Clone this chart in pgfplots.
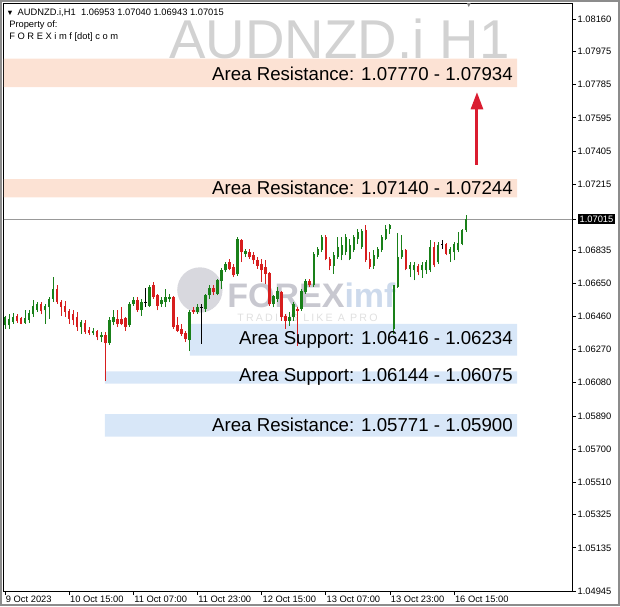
\documentclass[border=0pt]{standalone}
\usepackage{fontspec}
\setmainfont{Liberation Sans}
\newfontfamily\spacedfont[LetterSpace=20]{Liberation Sans}
\usepackage{pgfplots}
\pgfplotsset{compat=1.18}
\usepackage{pgfplotstable}
\usetikzlibrary{arrows.meta}
\definecolor{cgreen}{RGB}{25,128,25}
\definecolor{cred}{RGB}{215,30,30}
\definecolor{resband}{RGB}{252,226,212}
\definecolor{supband}{RGB}{216,231,248}
\definecolor{wmgray}{RGB}{210,210,210}
\definecolor{arrowred}{RGB}{218,28,48}
\definecolor{logogray}{RGB}{200,200,208}
\definecolor{logoblue}{RGB}{205,218,236}
\setlength{\fboxsep}{1.5pt}

\pgfplotstableread{
k o h l c
0 1.06407 1.06464 1.06388 1.06455
1 1.06407 1.06474 1.06388 1.06445
2 1.06426 1.06478 1.06416 1.06458
5 1.06420 1.06493 1.06416 1.06451
6 1.06439 1.06493 1.06420 1.06477
7 1.06470 1.06554 1.06458 1.06521
8 1.06497 1.06541 1.06483 1.06531
10 1.06493 1.06531 1.06416 1.06521
11 1.06512 1.06569 1.06445 1.06560
12 1.06560 1.06684 1.06541 1.06617
19 1.06397 1.06436 1.06359 1.06426
22 1.06363 1.06393 1.06350 1.06378
24 1.06340 1.06369 1.06311 1.06350
26 1.06306 1.06455 1.06298 1.06436
27 1.06426 1.06493 1.06407 1.06458
31 1.06407 1.06540 1.06397 1.06531
32 1.06531 1.06569 1.06521 1.06550
34 1.06493 1.06559 1.06464 1.06540
36 1.06521 1.06636 1.06512 1.06626
39 1.06527 1.06569 1.06512 1.06554
40 1.06540 1.06617 1.06512 1.06569
41 1.06559 1.06588 1.06540 1.06569
46 1.06321 1.06493 1.06260 1.06483
48 1.06483 1.06531 1.06474 1.06512
50 1.06502 1.06588 1.06483 1.06579
51 1.06579 1.06636 1.06559 1.06622
53 1.06588 1.06674 1.06579 1.06665
54 1.06660 1.06737 1.06617 1.06726
55 1.06722 1.06770 1.06712 1.06760
58 1.06700 1.06913 1.06690 1.06903
60 1.06817 1.06846 1.06798 1.06832
67 1.06527 1.06584 1.06511 1.06573
68 1.06559 1.06626 1.06540 1.06607
71 1.06435 1.06483 1.06406 1.06458
72 1.06454 1.06540 1.06435 1.06531
74 1.06502 1.06617 1.06492 1.06607
75 1.06597 1.06674 1.06588 1.06664
77 1.06636 1.06827 1.06626 1.06817
78 1.06808 1.06855 1.06798 1.06846
79 1.06836 1.06922 1.06827 1.06913
82 1.06750 1.06827 1.06702 1.06808
83 1.06798 1.06913 1.06788 1.06855
84 1.06808 1.06913 1.06779 1.06865
85 1.06830 1.06932 1.06808 1.06913
86 1.06788 1.06903 1.06779 1.06865
87 1.06836 1.06922 1.06827 1.06913
88 1.06903 1.06960 1.06874 1.06941
89 1.06855 1.06960 1.06846 1.06945
92 1.06750 1.06836 1.06731 1.06808
93 1.06798 1.06855 1.06788 1.06842
94 1.06836 1.06922 1.06827 1.06913
95 1.06903 1.06979 1.06894 1.06960
96 1.06956 1.06989 1.06932 1.06983
97 1.06389 1.06640 1.06361 1.06636
98 1.06626 1.06936 1.06623 1.06798
99 1.06798 1.06922 1.06789 1.06836
101 1.06731 1.06770 1.06684 1.06751
102 1.06722 1.06770 1.06665 1.06751
104 1.06722 1.06770 1.06680 1.06751
105 1.06722 1.06779 1.06703 1.06770
106 1.06722 1.06894 1.06712 1.06856
108 1.06770 1.06884 1.06760 1.06865
111 1.06817 1.06856 1.06770 1.06846
112 1.06827 1.06884 1.06779 1.06875
113 1.06836 1.06942 1.06827 1.06879
114 1.06875 1.06961 1.06865 1.06951
115 1.06953 1.07040 1.06943 1.07015
}\greencandles

\pgfplotstableread{
k o h l c
3 1.06464 1.06474 1.06420 1.06432
4 1.06451 1.06458 1.06413 1.06416
9 1.06531 1.06544 1.06470 1.06489
13 1.06617 1.06636 1.06531 1.06541
14 1.06541 1.06550 1.06464 1.06512
15 1.06521 1.06547 1.06455 1.06483
16 1.06489 1.06502 1.06416 1.06445
17 1.06474 1.06493 1.06407 1.06436
18 1.06455 1.06483 1.06378 1.06397
20 1.06420 1.06436 1.06359 1.06369
21 1.06382 1.06397 1.06355 1.06363
23 1.06374 1.06382 1.06321 1.06340
25 1.06350 1.06369 1.06092 1.06306
28 1.06445 1.06497 1.06397 1.06416
29 1.06445 1.06512 1.06407 1.06416
30 1.06451 1.06458 1.06378 1.06397
33 1.06550 1.06569 1.06483 1.06493
37 1.06636 1.06655 1.06559 1.06569
38 1.06579 1.06588 1.06493 1.06521
42 1.06569 1.06573 1.06388 1.06397
43 1.06407 1.06454 1.06369 1.06378
44 1.06388 1.06416 1.06349 1.06359
45 1.06363 1.06378 1.06311 1.06330
47 1.06493 1.06512 1.06474 1.06483
52 1.06622 1.06636 1.06579 1.06598
56 1.06769 1.06788 1.06722 1.06731
57 1.06740 1.06760 1.06683 1.06693
59 1.06897 1.06903 1.06769 1.06827
61 1.06827 1.06846 1.06788 1.06798
62 1.06808 1.06827 1.06760 1.06779
63 1.06783 1.06798 1.06731 1.06750
64 1.06760 1.06788 1.06655 1.06722
65 1.06741 1.06779 1.06645 1.06702
66 1.06706 1.06712 1.06521 1.06531
69 1.06597 1.06607 1.06435 1.06454
70 1.06464 1.06473 1.06387 1.06435
73 1.06502 1.06511 1.06292 1.06492
76 1.06664 1.06674 1.06626 1.06636
80 1.06913 1.06922 1.06779 1.06788
81 1.06788 1.06798 1.06722 1.06750
90 1.06951 1.06983 1.06769 1.06779
91 1.06788 1.06827 1.06731 1.06741
100 1.06836 1.06846 1.06722 1.06731
103 1.06747 1.06760 1.06693 1.06712
107 1.06856 1.06884 1.06741 1.06751
110 1.06875 1.06879 1.06808 1.06817
}\redcandles

\pgfplotstableread{
k o h l c
35 1.06540 1.06622 1.06512 1.06536
49 1.06512 1.06531 1.06302 1.06508
109 1.06875 1.06894 1.06846 1.06871
}\dojicandles

\pgfplotsset{
  wick/.style={draw=none, mark=none, forget plot, error bars/.cd, y dir=plus, y explicit, error mark=none, error bar style={draw=#1, line width=0.75pt}},
  body/.style={draw=none, mark=none, forget plot, error bars/.cd, y dir=plus, y explicit, error mark=none, error bar style={draw=#1, line width=1.9pt}},
}

\begin{document}
\begin{tikzpicture}
\path[use as bounding box] (-3pt,-11.25pt) rectangle (462pt,443.25pt);
\begin{axis}[
  at={(0,0)}, anchor=south west,
  scale only axis, width=426pt, height=440.25pt,
  xmin=-0.25, xmax=141.4, ymin=1.04888, ymax=1.08246,
  axis line style={black, line width=0.75pt},
  xtick={0,16,32,48,64,80,96,112},
  xticklabels={9 Oct 2023,10 Oct 15:00,11 Oct 07:00,11 Oct 23:00,12 Oct 15:00,13 Oct 07:00,13 Oct 23:00,16 Oct 15:00},
  xtick pos=bottom, ytick pos=right, yticklabel pos=right,
  tick align=outside, major tick length=3pt,
  tick style={black, line width=0.5pt},
  xticklabel style={anchor=north west, inner xsep=0.5pt, inner ysep=0pt, yshift=-0.5pt, font=\fontsize{7}{8}\selectfont},
  yticklabel style={anchor=west, inner xsep=1pt, font=\fontsize{7}{8}\selectfont},
  ytick={1.04888,1.05135,1.05325,1.05510,1.05700,1.05890,1.06080,1.06270,1.06460,1.06650,1.06835,1.07015,1.07215,1.07405,1.07595,1.07785,1.07975,1.08160},
  yticklabels={1.04945,1.05135,1.05325,1.05510,1.05700,1.05890,1.06080,1.06270,1.06460,1.06650,1.06835,{\colorbox{black}{\textcolor{white}{1.07015}}},1.07215,1.07405,1.07595,1.07785,1.07975,1.08160},
  clip=true,
]
% watermark symbol
\node[anchor=base east, font=\fontsize{41}{41}\selectfont, text=wmgray, inner sep=0pt] at (axis cs:125.9,1.07936) {AUDNZD.i H1};

% zones
\addplot[fill=resband, draw=none, forget plot] coordinates {(-0.25,1.07770) (127.7,1.07770) (127.7,1.07934) (-0.25,1.07934) (-0.25,1.07770)};
\addplot[fill=resband, draw=none, forget plot] coordinates {(-0.25,1.07140) (127.7,1.07140) (127.7,1.07244) (-0.25,1.07244) (-0.25,1.07140)};
\addplot[fill=supband, draw=none, forget plot] coordinates {(46.1,1.06234) (127.7,1.06234) (127.7,1.06416) (46.1,1.06416) (46.1,1.06234)};
\addplot[fill=supband, draw=none, forget plot] coordinates {(24.9,1.06075) (127.7,1.06075) (127.7,1.06144) (24.9,1.06144) (24.9,1.06075)};
\addplot[fill=supband, draw=none, forget plot] coordinates {(24.9,1.05771) (127.7,1.05771) (127.7,1.05900) (24.9,1.05900) (24.9,1.05771)};

% logo watermark
\fill[logogray, opacity=0.7] (axis cs:48.6,1.06610) circle[radius=17pt];
\node[anchor=base west, inner sep=0pt, font=\bfseries\fontsize{25.5}{26}\selectfont, text=logogray] at (axis cs:55.4,1.06507) {FOREX\textcolor{logoblue}{imf}};
\node[anchor=base west, inner sep=0pt, font=\spacedfont\fontsize{8}{9}\selectfont, text=black!12] at (axis cs:57.9,1.06427) {TRADING LIKE A PRO};

% price line
\addplot[draw=black!40, line width=0.6pt, mark=none, forget plot] coordinates {(-1,1.07015) (145,1.07015)};

% green candles
\addplot[wick=cgreen] table[x=k, y=l, y error expr=\thisrow{h}-\thisrow{l}] {\greencandles};
\addplot[body=cgreen] table[x=k, y=o, y error expr=\thisrow{c}-\thisrow{o}] {\greencandles};
% red candles
\addplot[wick=cred] table[x=k, y=l, y error expr=\thisrow{h}-\thisrow{l}] {\redcandles};
\addplot[body=cred] table[x=k, y=c, y error expr=\thisrow{o}-\thisrow{c}] {\redcandles};
% doji
\addplot[wick=black] table[x=k, y=l, y error expr=\thisrow{h}-\thisrow{l}] {\dojicandles};
\addplot[body=black] table[x=k, y=c, y error expr=\thisrow{o}-\thisrow{c}] {\dojicandles};

% zone labels
\node[anchor=east, inner sep=0pt, font=\fontsize{14}{16}\selectfont] at (axis cs:126.7,1.07848) {Area Resistance: 1.07770 - 1.07934};
\node[anchor=east, inner sep=0pt, font=\fontsize{14}{16}\selectfont] at (axis cs:126.7,1.07192) {Area Resistance: 1.07140 - 1.07244};
\node[anchor=east, inner sep=0pt, font=\fontsize{14}{16}\selectfont] at (axis cs:126.7,1.06325) {Area Support: 1.06416 - 1.06234};
\node[anchor=east, inner sep=0pt, font=\fontsize{14}{16}\selectfont] at (axis cs:126.7,1.06110) {Area Support: 1.06144 - 1.06075};
\node[anchor=east, inner sep=0pt, font=\fontsize{14}{16}\selectfont] at (axis cs:126.7,1.05836) {Area Resistance: 1.05771 - 1.05900};

% arrow
\draw[-{Triangle[width=9pt,length=13pt]}, line width=2.25pt, arrowred] (axis cs:117.7,1.07325) -- (axis cs:117.7,1.07742);

% header
\node[anchor=west, inner sep=0pt, font=\fontsize{7}{8}\selectfont] at (axis cs:0.25,1.08196) {\scalebox{0.8}{▼}\hspace{3pt}AUDNZD.i,H1\hspace{4pt}1.06953 1.07040 1.06943 1.07015};
\node[anchor=west, inner sep=0pt, font=\fontsize{7}{8}\selectfont] at (axis cs:1,1.08126) {Property of:};
\node[anchor=west, inner sep=0pt, font=\fontsize{7}{8}\selectfont] at (axis cs:1,1.08055) {F O R E X i m f [dot] c o m};
\node[anchor=north, inner sep=0pt, font=\fontsize{8}{8}\selectfont, text=black!50] at (axis cs:115.7,1.08262) {▼};
\end{axis}
\draw[black!45, line width=1.5pt] (-2.25pt,-10.5pt) rectangle (461.25pt,442.5pt);
\end{tikzpicture}
\end{document}
